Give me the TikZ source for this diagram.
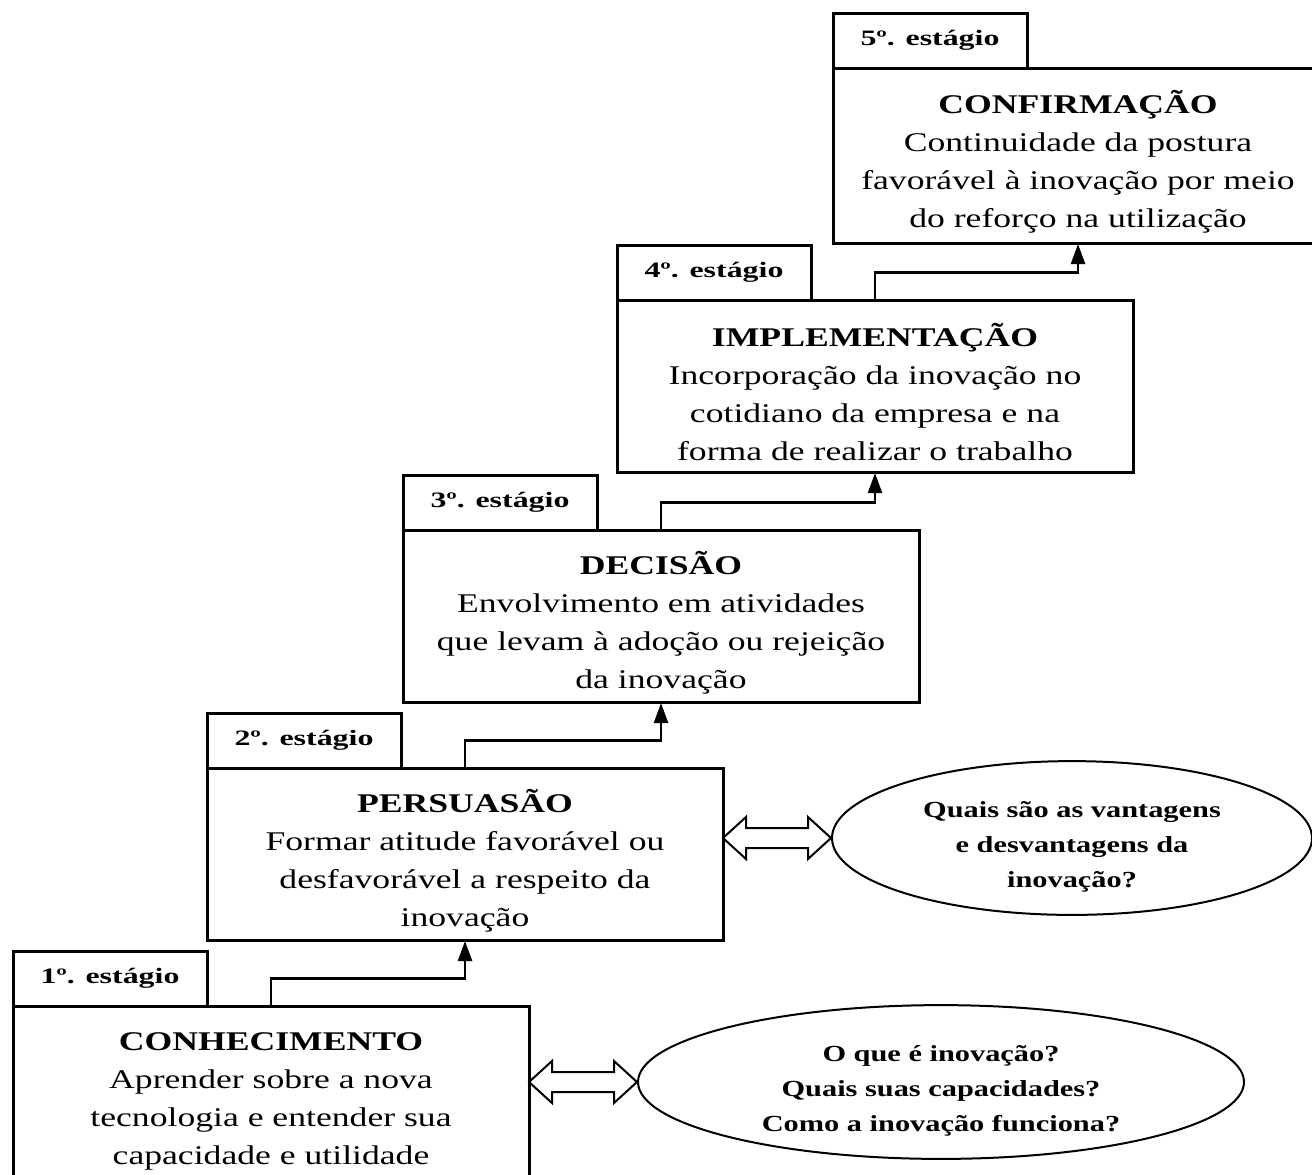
\documentclass[tikz,border=0pt]{standalone}
\usepackage{fontspec}
\setmainfont{Liberation Serif}[FakeStretch=1.32]
\newfontfamily\rotulofont{Liberation Serif}[FakeStretch=1.45]
\usepackage{tikz}
\usetikzlibrary{arrows.meta,shapes.geometric,calc}
\newcommand\titulo[1]{\rule{0pt}{18pt}\textbf{#1}}
\newcommand\primeira{\rule{0pt}{17pt}}

\begin{document}
\begin{tikzpicture}[x=0.5pt,y=-0.5pt,
    etapa/.style={draw, line width=1.5pt, outer sep=0pt, inner sep=0pt, anchor=north west,
        minimum width=258pt, minimum height=86pt, align=center,
        font=\fontsize{13.5}{19}\selectfont},
    rotulo/.style={draw, line width=1.5pt, outer sep=0pt, inner sep=0pt, anchor=south west,
        minimum width=97pt, minimum height=27.5pt, font=\rotulofont\fontsize{11}{13}\selectfont\bfseries},
    pergunta/.style={ellipse, draw, line width=1pt, inner sep=0pt, align=center,
        font=\fontsize{11.5}{17.5}\selectfont\bfseries},
    seta/.style={line width=1.2pt, -{Triangle[width=7pt,length=10pt]}, shorten >=0.5pt},
    dupla/.style={line width=1pt, line join=miter}]
                \useasboundingbox (0,0) rectangle (1312,1174);

                \node[etapa] (s1) at (13,1006) {\titulo{CONHECIMENTO}\\ Aprender sobre a nova\\ tecnologia e entender sua\\ capacidade e utilidade};
                \node[etapa] (s2) at (207,768) {\titulo{PERSUASÃO}\\ Formar atitude favorável ou\\ desfavorável a respeito da\\ inovação};
                \node[etapa] (s3) at (403,530) {\titulo{DECISÃO}\\ Envolvimento em atividades\\ que levam à adoção ou rejeição\\ da inovação};
                \node[etapa] (s4) at (617,300) {\titulo{IMPLEMENTAÇÃO}\\ Incorporação da inovação no\\ cotidiano da empresa e na\\ forma de realizar o trabalho};
                \node[etapa, minimum width=245pt, minimum height=87.5pt] (s5) at (833,68) {\titulo{CONFIRMAÇÃO}\\ Continuidade da postura\\ favorável à inovação por meio\\ do reforço na utilização};

                \node[rotulo] (l1) at (s1.north west) {1º. estágio};
                \node[rotulo] (l2) at (s2.north west) {2º. estágio};
                \node[rotulo] (l3) at (s3.north west) {3º. estágio};
                \node[rotulo] (l4) at (s4.north west) {4º. estágio};
                \node[rotulo] (l5) at (s5.north west) {5º. estágio};

                \draw[seta] (s1.north) -- (s1.north |- l1.east) -| (s2.south);
                \draw[seta] (s2.north) -- (s2.north |- l2.east) -| (s3.south);
                \draw[seta] (s3.north) -- (s3.north |- l3.east) -| (s4.south);
                \draw[seta] (s4.north) -- (s4.north |- l4.east) -| (s5.south);

                \node[pergunta, minimum width=303pt, minimum height=73pt] (e1) at (941,1082) {\primeira O que é inovação?\\ Quais suas capacidades?\\ Como a inovação funciona?};
                \node[pergunta, minimum width=240pt, minimum height=70pt] (e2) at (1072,838) {\primeira Quais são as vantagens\\ e desvantagens da\\ inovação?};

                \coordinate (a1) at (s1.east |- e1.west);
                \coordinate (a2) at (s2.east |- e2.west);
                \draw[dupla] (a1) -- ($(a1)+(23,-21)$) -- ($(a1)+(23,-10)$) -- ($(e1.west)+(-23,-10)$) -- ($(e1.west)+(-23,-21)$) -- (e1.west)
                    -- ($(e1.west)+(-23,21)$) -- ($(e1.west)+(-23,10)$) -- ($(a1)+(23,10)$) -- ($(a1)+(23,21)$) -- cycle;
                \draw[dupla] (a2) -- ($(a2)+(23,-21)$) -- ($(a2)+(23,-10)$) -- ($(e2.west)+(-23,-10)$) -- ($(e2.west)+(-23,-21)$) -- (e2.west)
                    -- ($(e2.west)+(-23,21)$) -- ($(e2.west)+(-23,10)$) -- ($(a2)+(23,10)$) -- ($(a2)+(23,21)$) -- cycle;
            \end{tikzpicture}
\end{document}
